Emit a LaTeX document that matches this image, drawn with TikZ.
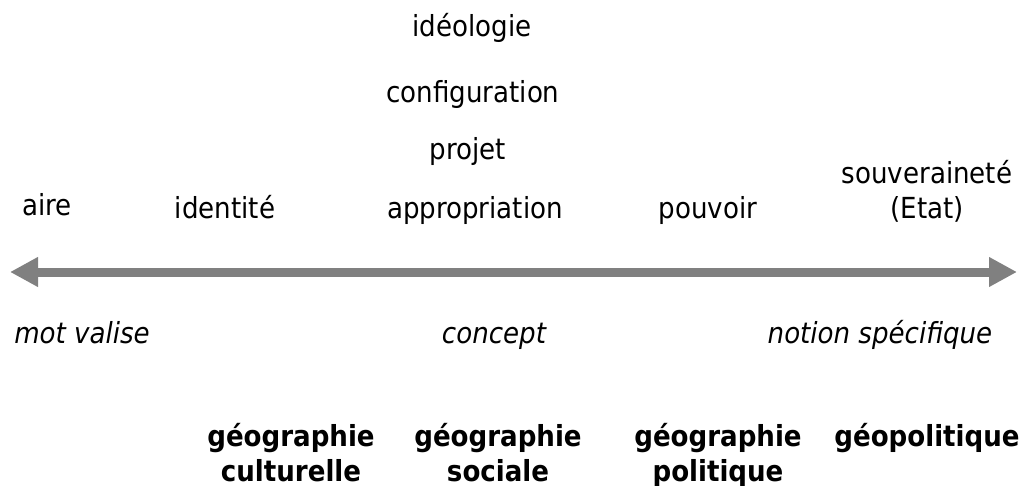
\documentclass[tikz,border=0pt]{standalone}
\usepackage{fontspec}
\setmainfont{DejaVu Sans Condensed}
\usetikzlibrary{arrows.meta}
\definecolor{axisgray}{RGB}{128,128,128}
\begin{document}
\begin{tikzpicture}[x=1pt,y=-1pt]
  \tikzset{ w/.style={anchor=base,inner sep=0pt,align=center,font=\fontsize{29}{35}\selectfont},
  wi/.style={w,font=\fontsize{29}{35}\selectfont\itshape},
  wb/.style={w,font=\fontsize{29}{35}\selectfont\bfseries},
  }
  \useasboundingbox (0,0) rectangle (1027,486);
  \node[w] (ideologie) at (472, 37) {idéologie};
  \node[w] (configuration) at (473, 103) {configuration};
  \node[w] (projet) at (468, 160) {projet};
  \node[w] (appropriation) at (475, 219) {appropriation};
  \node[w] (aire) at (47, 216) {aire};
  \node[w] (identite) at (225, 219) {identité};
  \node[w] (pouvoir) at (708, 219) {pouvoir};
  \node[w] (souverainete) at (927, 219) {souveraineté\\(Etat)};
  \node[wi] (motvalise) at (82, 343) {mot valise};
  \node[wi] (concept) at (494, 343) {concept};
  \node[wi] (notion) at (880, 343) {notion spécifique};
  \node[wb] (geoculturelle) at (291, 481) {géographie\\culturelle};
  \node[wb] (geosociale) at (498, 481) {géographie\\sociale};
  \node[wb] (geopolitique) at (718, 481) {géographie\\politique};
  \node[wb] (geopol) at (927, 446) {géopolitique};

  % the axis between the two ends
  \coordinate (left) at (10, 272);
  \coordinate (right) at (1017, 272);
  \draw[axisgray, line width=9pt, {Triangle[length=28pt,width=28pt]}-{Triangle[length=28pt,width=28pt]}] (left) -- (right);
\end{tikzpicture}
\end{document}
